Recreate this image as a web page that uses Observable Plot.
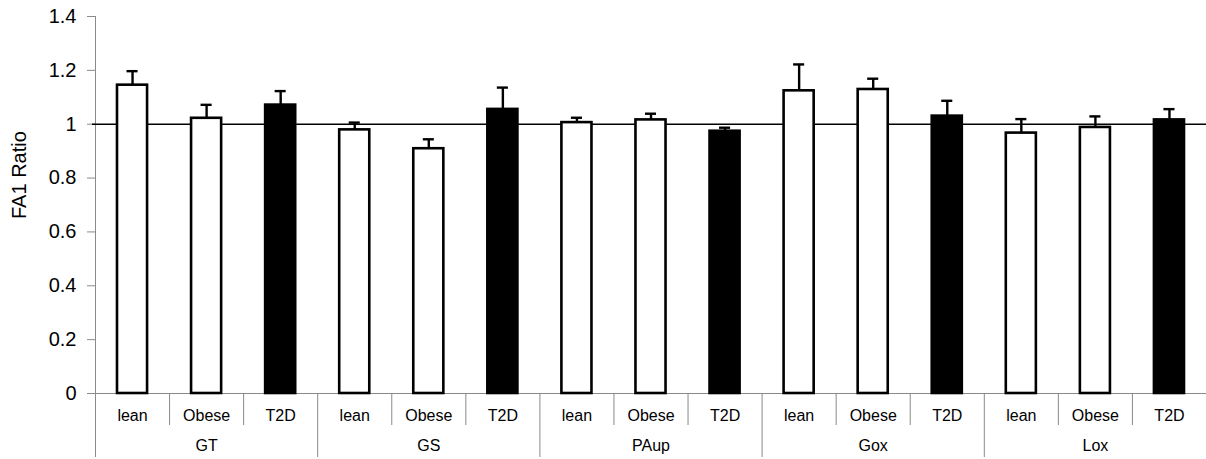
<!DOCTYPE html>
<html><head><meta charset="utf-8">
<script src="https://cdn.jsdelivr.net/npm/d3@7"></script>
<script src="https://cdn.jsdelivr.net/npm/@observablehq/plot@0.6"></script>
<style>body{margin:0;background:#fff}</style>
</head><body><div id="chart"></div>
<script>
const groups = ["GT", "GS", "PAup", "Gox", "Lox"];
const conditions = ["lean", "Obese", "T2D"];
const means  = [1.145, 1.022, 1.071,  0.979, 0.909, 1.055,  1.006, 1.016, 0.974,  1.124, 1.129, 1.030,  0.967, 0.988, 1.016];
const errors = [0.052, 0.050, 0.052,  0.027, 0.035, 0.081,  0.018, 0.023, 0.013,  0.098, 0.040, 0.057,  0.052, 0.041, 0.040];
const yTicks = [0, 0.2, 0.4, 0.6, 0.8, 1, 1.2, 1.4];
const yLabel = "FA1 Ratio";
const referenceLine = 1;

const rows = [];
groups.forEach((g, gi) => conditions.forEach((c, ci) => {
  const i = gi * conditions.length + ci;
  rows.push({group: g, cond: c, gi, ci, i, mean: means[i], err: errors[i]});
}));
const subBounds = rows.filter(d => d.ci > 0).map(d => d.i);
const groupBounds = groups.map((g, gi) => gi * conditions.length);
const subCenters = rows.map(d => d.i + 0.5);
const groupCenters = groups.map((g, gi) => gi * conditions.length + conditions.length / 2);

const grey = "#8a8a8a";
const chart = Plot.plot({
  width: 1206,
  height: 459,
  marginTop: 16,
  marginBottom: 66,
  marginLeft: 95,
  marginRight: 0,
  style: {fontFamily: "'Liberation Sans', Arial, sans-serif", fontSize: "20px", background: "white", color: "black"},
  x: {type: "linear", domain: [0, rows.length], axis: null},
  y: {domain: [0, 1.4], axis: null},
  marks: [
    Plot.ruleY([0], {stroke: grey, strokeWidth: 1}),
    Plot.ruleX([0], {stroke: grey, strokeWidth: 1}),
    Plot.axisY({ticks: yTicks, tickSize: 8, tickPadding: 11, tickFormat: d => String(d),
      stroke: grey, fill: "black", fontSize: 20, label: null}),
    Plot.text([yLabel], {text: d => d, frameAnchor: "left", rotate: -90, dx: -76, dy: 14,
      fontSize: 20, fill: "black"}),
    Plot.ruleY([referenceLine], {stroke: "black", strokeWidth: 1.5, insetLeft: -3}),
    Plot.rectY(rows, {x1: "i", x2: d => d.i + 1, y: "mean",
      fill: d => d.cond === "T2D" ? "black" : "white", stroke: "black", strokeWidth: 2.6,
      insetLeft: 22, insetRight: 22}),
    Plot.ruleX(rows, {x: d => d.i + 0.5, y1: "mean", y2: d => d.mean + d.err, stroke: "black", strokeWidth: 2.4}),
    Plot.ruleY(rows, {y: d => d.mean + d.err, x1: "i", x2: d => d.i + 1, insetLeft: 31.5, insetRight: 31.5, stroke: "black", strokeWidth: 2.4}),
    Plot.axisX(subBounds, {tickSize: 32, tickFormat: () => "", stroke: grey, label: null}),
    Plot.axisX(groupBounds, {tickSize: 64, tickFormat: () => "", stroke: grey, label: null}),
    Plot.axisX(subCenters, {tickSize: 0, tickPadding: 16, fontSize: 16, fill: "black",
      tickFormat: d => conditions[Math.floor(d) % conditions.length], label: null}),
    Plot.axisX(groupCenters, {tickSize: 0, tickPadding: 46, fontSize: 16, fill: "black",
      tickFormat: d => groups[Math.floor(d / conditions.length)], label: null})
  ]
});
document.getElementById("chart").appendChild(chart);
</script>
</body></html>
